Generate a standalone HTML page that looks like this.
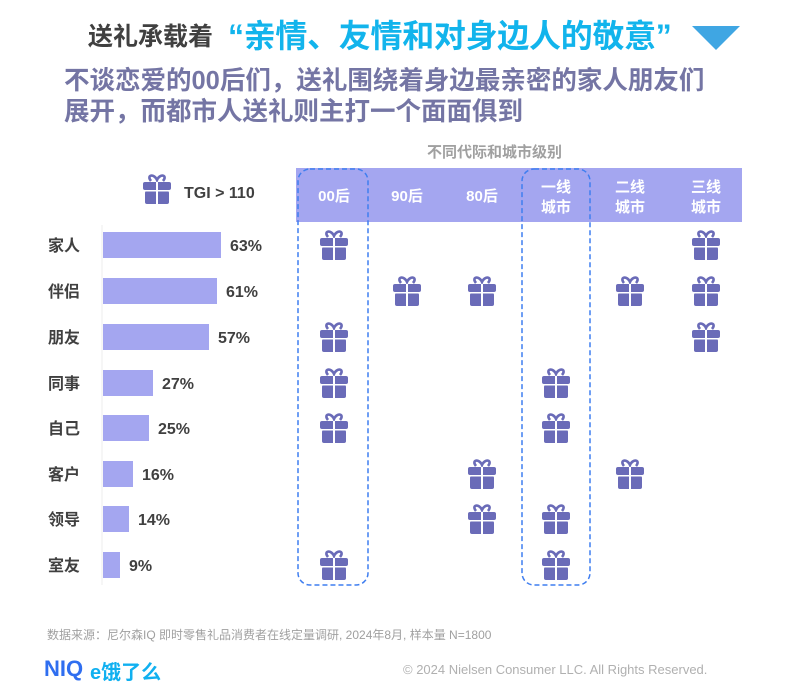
<!DOCTYPE html><html><head><meta charset="utf-8"><style>
body{margin:0;width:786px;height:699px;background:#fff;font-family:"Liberation Sans","Noto Sans CJK SC",sans-serif;position:relative;overflow:hidden}
.a{position:absolute;white-space:nowrap}
</style></head><body>
<div class="a" style="left:88px;top:22px;font-size:25px;font-weight:bold;color:#404040;line-height:30px">送礼承载着</div>
<div class="a" style="left:228px;top:17px;font-size:32px;font-weight:bold;color:#12b4ec;line-height:38px;letter-spacing:-0.3px">“亲情、友情和对身边人的敬意”</div>
<svg class="a" style="left:690px;top:24px" width="52" height="28"><polygon points="2,2 50,2 26,26" fill="#3fa6e3"/></svg>
<div class="a" style="left:64px;top:66px;font-size:25.5px;font-weight:bold;color:#7475a4;line-height:31px">不谈恋爱的00后们，送礼围绕着身边最亲密的家人朋友们<br>展开，而都市人送礼则主打一个面面俱到</div>
<div class="a" style="left:427px;top:141px;font-size:15px;font-weight:bold;color:#a0a0a0">不同代际和城市级别</div>
<svg class="a" style="left:0;top:0" width="786" height="699">
<defs><symbol id="g" viewBox="0 0 30 32"><path d="M9,8 C4,2 12,0 15,7 C18,0 26,2 21,8" fill="none" stroke="#6a6bb8" stroke-width="2.6"/><rect x="1" y="9" width="28" height="8" rx="2" fill="#6a6bb8"/><rect x="3" y="18" width="24" height="13" rx="2" fill="#6a6bb8"/><rect x="14" y="9" width="2" height="22" fill="#fff"/><rect x="1" y="17" width="28" height="1.5" fill="#fff"/></symbol></defs>
<rect x="296" y="168" width="446" height="54" fill="#a4a6f0"/>
<g font-size="15" font-weight="bold" fill="#fff" text-anchor="middle">
<text x="334" y="201">00后</text><text x="407" y="201">90后</text><text x="482" y="201">80后</text>
<text x="556" y="192">一线</text><text x="556" y="212">城市</text>
<text x="630" y="192">二线</text><text x="630" y="212">城市</text>
<text x="706" y="192">三线</text><text x="706" y="212">城市</text></g>
<rect x="298" y="169" width="70" height="416" rx="12" fill="none" stroke="#3f7ef0" stroke-width="1.5" stroke-dasharray="5,3"/>
<rect x="522" y="169" width="68" height="416" rx="12" fill="none" stroke="#3f7ef0" stroke-width="1.5" stroke-dasharray="5,3"/>
<use href="#g" x="142" y="173" width="30" height="32"/>
<text x="184" y="198" font-size="16" font-weight="bold" fill="#404040">TGI &gt; 110</text>
<line x1="102" y1="225" x2="102" y2="585" stroke="#eee"/>
<g font-size="16" font-weight="bold" fill="#404040">
<text x="48" y="251">家人</text><text x="48" y="297">伴侣</text><text x="48" y="343">朋友</text><text x="48" y="389">同事</text><text x="48" y="434">自己</text><text x="48" y="480">客户</text><text x="48" y="525">领导</text><text x="48" y="571">室友</text>
</g>
<g fill="#a4a6f0">
<rect x="103" y="232" width="118" height="26"/><rect x="103" y="278" width="114" height="26"/><rect x="103" y="324" width="106" height="26"/><rect x="103" y="370" width="50" height="26"/><rect x="103" y="415" width="46" height="26"/><rect x="103" y="461" width="30" height="26"/><rect x="103" y="506" width="26" height="26"/><rect x="103" y="552" width="17" height="26"/>
</g>
<g font-size="16" font-weight="bold" fill="#404040">
<text x="230" y="251">63%</text><text x="226" y="297">61%</text><text x="218" y="343">57%</text><text x="162" y="389">27%</text><text x="158" y="434">25%</text><text x="142" y="480">16%</text><text x="138" y="525">14%</text><text x="129" y="571">9%</text>
</g>
<g>
<use href="#g" x="319" y="229" width="30" height="32"/><use href="#g" x="691" y="229" width="30" height="32"/>
<use href="#g" x="392" y="275" width="30" height="32"/><use href="#g" x="467" y="275" width="30" height="32"/><use href="#g" x="615" y="275" width="30" height="32"/><use href="#g" x="691" y="275" width="30" height="32"/>
<use href="#g" x="319" y="321" width="30" height="32"/><use href="#g" x="691" y="321" width="30" height="32"/>
<use href="#g" x="319" y="367" width="30" height="32"/><use href="#g" x="541" y="367" width="30" height="32"/>
<use href="#g" x="319" y="412" width="30" height="32"/><use href="#g" x="541" y="412" width="30" height="32"/>
<use href="#g" x="467" y="458" width="30" height="32"/><use href="#g" x="615" y="458" width="30" height="32"/>
<use href="#g" x="467" y="503" width="30" height="32"/><use href="#g" x="541" y="503" width="30" height="32"/>
<use href="#g" x="319" y="549" width="30" height="32"/><use href="#g" x="541" y="549" width="30" height="32"/>
</g>
</svg>
<div class="a" style="left:47px;top:626px;font-size:12px;color:#a0a0a0">数据来源：尼尔森IQ 即时零售礼品消费者在线定量调研, 2024年8月, 样本量 N=1800</div>
<div class="a" style="left:44px;top:656px;font-size:22px;font-weight:bold;color:#2f6ef0">NIQ</div>
<div class="a" style="left:90px;top:656px;font-size:20px;font-weight:bold;color:#10b0f0">e饿了么</div>
<div class="a" style="left:403px;top:662px;font-size:13px;color:#b0b0b0">© 2024 Nielsen Consumer LLC. All Rights Reserved.</div>
</body></html>
